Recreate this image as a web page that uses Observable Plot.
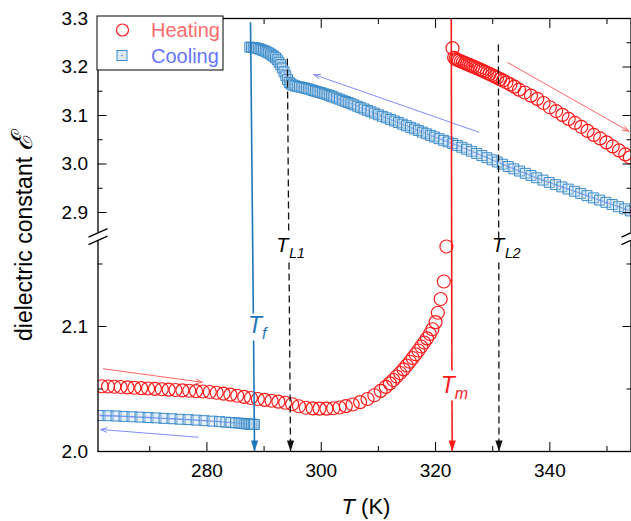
<!DOCTYPE html>
<html><head><meta charset="utf-8">
<script src="https://cdn.jsdelivr.net/npm/d3@7"></script>
<script src="https://cdn.jsdelivr.net/npm/@observablehq/plot@0.6"></script>
<style>
body{margin:0;background:#fff;}
#chart{position:relative;width:631px;height:521px;}
</style></head><body><div id="chart"></div>
<script>
// ---------- data ----------
const heatLowT = [261.6,262.7,263.8,264.9,266.1,267.3,268.5,269.7,270.9,272.1,273.3,274.5,275.7,276.9,278.1,279.3,280.5,281.7,282.9,284.1,285.3,286.5,287.7,288.9,290.1,291.3,292.5,293.7,294.9,296.1,297.3,298.5,299.7,300.9,302.1,303.2,304.3,305.5,306.8,308.1,309.3,310.4,311.3,312.0,312.6,313.2,313.8,314.4,314.95,315.5,316.0,316.5,317.0,317.5,318.0,318.5,319.0,319.45,320.0,320.4,320.9,321.45,321.9];
const heatLowE = [2.0522,2.0520,2.0518,2.0516,2.0513,2.0510,2.0507,2.0504,2.0501,2.0498,2.0495,2.0492,2.0489,2.0486,2.0483,2.0480,2.0476,2.0470,2.0463,2.0455,2.0446,2.0437,2.0428,2.0420,2.0413,2.0406,2.0399,2.0390,2.0378,2.0362,2.0350,2.0345,2.0343,2.0343,2.0346,2.0352,2.0363,2.0376,2.0395,2.0420,2.0450,2.0485,2.0517,2.0545,2.0572,2.0600,2.0628,2.0657,2.0688,2.0718,2.0748,2.0778,2.0808,2.0840,2.0872,2.0905,2.0940,2.0978,2.1035,2.1110,2.1220,2.1360,2.1640];
const heatHighT = [322.97,323.25,323.5,323.8,324.1,324.45,324.8,325.15,325.5,325.85,326.2,326.6,327.0,327.4,327.8,328.2,328.6,329.0,329.45,329.9,330.35,330.8,331.3,331.8,332.4,333.1,333.8,334.6,335.6,336.7,337.8,338.9,340.0,341.1,342.2,343.3,344.4,345.5,346.6,347.7,348.8,349.9,351.0,352.1,353.2,354.0];
const heatHighE = [3.2388,3.2190,3.2165,3.2148,3.2132,3.2115,3.2098,3.2080,3.2062,3.2045,3.2027,3.2008,3.1988,3.1967,3.1946,3.1925,3.1903,3.1881,3.1857,3.1832,3.1806,3.1780,3.1750,3.1720,3.1684,3.1640,3.1595,3.1532,3.1474,3.1410,3.1343,3.1258,3.1170,3.1092,3.1013,3.0930,3.0847,3.0766,3.0683,3.0600,3.0527,3.0446,3.0362,3.0280,3.0198,3.0138];
const coolLowT = [261.3,262.7,264.1,265.5,266.9,268.3,269.7,271.1,272.5,273.9,275.3,276.7,278.1,279.5,280.9,282.2,283.3,284.2,285.0,285.6,286.1,286.5,286.9,287.2,287.5,287.8,288.1,288.3];
const coolLowE = [2.0288,2.0286,2.0284,2.0281,2.0278,2.0275,2.0272,2.0269,2.0265,2.0262,2.0258,2.0255,2.0251,2.0247,2.0243,2.0239,2.0235,2.0232,2.0229,2.0227,2.0225,2.0223,2.0221,2.0220,2.0219,2.0218,2.0217,2.0216];
const coolHighT = [287.5,287.8,288.1,288.4,288.7,289.0,289.3,289.6,289.9,290.2,290.5,290.8,291.1,291.4,291.7,292.0,292.3,292.6,292.9,293.2,293.5,293.8,294.1,294.4,294.7,295.0,295.4,295.8,296.2,296.6,297.0,297.4,297.8,298.2,298.6,299.0,299.4,299.8,300.2,300.6,301.0,301.4,301.8,302.2,302.7,303.2,303.7,304.2,304.7,305.2,305.7,306.3,306.9,307.5,308.1,308.7,309.3,310.0,310.7,311.4,312.1,312.8,313.5,314.2,314.9,315.6,316.3,317.0,317.7,318.4,319.1,319.8,320.6,321.4,322.2,323.0,323.8,324.6,325.4,326.3,327.2,328.1,329.0,329.9,330.8,331.7,332.7,333.7,334.7,335.7,336.7,337.7,338.8,339.9,341.0,342.1,343.2,344.3,345.4,346.5,347.6,348.7,349.8,350.9,352.0,353.1,354.1];
const coolHighE = [3.2410,3.2405,3.2400,3.2395,3.2390,3.2380,3.2365,3.2352,3.2340,3.2325,3.2308,3.2290,3.2268,3.2245,3.2220,3.2190,3.2150,3.2100,3.2050,3.1980,3.1900,3.1820,3.1740,3.1680,3.1650,3.1630,3.1612,3.1600,3.1590,3.1580,3.1570,3.1558,3.1545,3.1530,3.1515,3.1500,3.1487,3.1474,3.1460,3.1445,3.1430,3.1414,3.1398,3.1380,3.1358,3.1336,3.1313,3.1290,3.1267,3.1244,3.1220,3.1192,3.1163,3.1134,3.1105,3.1076,3.1048,3.1015,3.0983,3.0951,3.0919,3.0887,3.0854,3.0822,3.0789,3.0756,3.0723,3.0690,3.0657,3.0624,3.0591,3.0558,3.0522,3.0488,3.0455,3.0420,3.0383,3.0345,3.0305,3.0262,3.0218,3.0174,3.0130,3.0085,3.0040,2.9996,2.9948,2.9900,2.9854,2.9808,2.9762,2.9716,2.9668,2.9620,2.9574,2.9528,2.9483,2.9438,2.9393,2.9348,2.9302,2.9256,2.9210,2.9165,2.9120,2.9075,2.9032];

// tick values
const xMajor = [280, 300, 320, 340];
const xMinor = [270, 290, 310, 330, 350];
const yMajor = [2.0, 2.1, 2.9, 3.0, 3.1, 3.2, 3.3];
const yMinor = [2.05, 2.15, 2.95, 3.05, 3.15, 3.25];

// transition markers: [x1, y1, x2, y2] segments (gap left for label)
const tfSegs = [[287.63, 3.2924, 288.12, 2.1104], [288.17, 2.0888, 288.33, 2.0]];
const tmSegs = [[322.75, 3.3, 322.86, 2.0648], [322.88, 2.0408, 322.92, 2.0]];
const tlSegs = [[294.07, 3.2175, 294.31, 2.859], [294.36, 2.1512, 294.63, 2.0],
                [331.0, 3.2464, 331.05, 2.1704], [331.07, 2.1512, 331.1, 2.0]];
const tipsT = [288.33, 322.92, 294.63, 331.1];
const tipsColor = ["#1f76b6", "#ff1a1a", "#111", "#111"];
// labels: main letter position, subscript, colour, kind (phase / lattice)
const labT = [288.42, 322.15, 293.18, 330.94];
const labE = [2.1008, 2.0528, 2.1644, 2.1644];
const labSub = ["f", "m", "L1", "L2"];
const labColor = ["#1f76b6", "#ff1a1a", "#000", "#000"];
const labKind = ["big", "big", "small", "small"];
// direction arrows [x1, y1, x2, y2]
const redArrows = [[332.65, 3.209, 353.83, 3.0676], [261.85, 2.0662, 279.18, 2.0554]];
const blueArrows = [[327.58, 3.0656, 298.7, 3.1845], [278.48, 2.0114, 261.4, 2.0176]];

// ---------- build tables ----------
const heat = [...heatLowT.map((t, i) => ({T: t, E: heatLowE[i]})), ...heatHighT.map((t, i) => ({T: t, E: heatHighE[i]}))];
const cool = [...coolLowT.map((t, i) => ({T: t, E: coolLowE[i], seg: "low"})), ...coolHighT.map((t, i) => ({T: t, E: coolHighE[i], seg: "high"}))];
const segRows = a => a.map(([x1, y1, x2, y2]) => ({x1, y1, x2, y2}));
const labels = labT.map((t, i) => ({T: t, E: labE[i], sub: labSub[i], color: labColor[i], kind: labKind[i]}));
const bigLabels = labels.filter(d => d.kind === "big");
const smallLabels = labels.filter(d => d.kind === "small");
const tips = tipsT.map((t, i) => ({T: t, E: 2.0, color: tipsColor[i]}));

// ---------- broken y axis: piecewise-linear scale transform ----------
const LO = [2.0, 2.171], HI = [2.853, 3.3];
const wLo = 1250, wHi = 485, wGap = 2.45;
function brk(v) {
  const a = (LO[1] - LO[0]) * wLo;
  if (v <= LO[1]) return (v - LO[0]) * wLo;
  if (v >= HI[0]) return a + wGap + (v - HI[0]) * wHi;
  return a + (v - LO[1]) / (HI[0] - LO[1]) * wGap;
}
const BREAK_VALUE = 2.5;

const FONT = "'Liberation Sans', Arial, Helvetica, sans-serif";
const breakLines = {draw(c) { c.moveTo(-9.5, 0.5); c.lineTo(9.5, -8); c.moveTo(-9.5, 8); c.lineTo(9.5, -0.5); }};
const breakFill = {draw(c) { c.moveTo(-9.5, 0.5); c.lineTo(9.5, -8); c.lineTo(9.5, -0.5); c.lineTo(-9.5, 8); c.closePath(); }};
const downTri = {draw(c) { c.moveTo(0, 0); c.lineTo(-3.6, -11); c.lineTo(3.6, -11); c.closePath(); }};

const labelMarks = (data, size, subSize) => [
  Plot.text(data, {x: "T", y: "E", text: () => "T", fill: "color", fontSize: size, fontStyle: "italic", fontFamily: FONT}),
  Plot.text(data, {x: "T", y: "E", text: "sub", fill: "color", fontSize: subSize, fontStyle: "italic", textAnchor: "start", dx: 7, dy: 8, fontFamily: FONT})
];

const plot = Plot.plot({
  width: 631, height: 521,
  marginLeft: 97.5, marginRight: 0.5, marginTop: 18, marginBottom: 70,
  x: {domain: [260.94, 354.2], label: null},
  y: {domain: [0, brk(3.3)], transform: brk, label: null},
  color: {type: "identity"},
  style: {fontFamily: FONT, background: "#fff", color: "#000", overflow: "visible"},
  marks: [
    Plot.line(cool, {x: "T", y: "E", z: "seg", stroke: "#5b6cf5", strokeWidth: 1.3, clip: true}),
    Plot.dot(cool, {x: "T", y: "E", symbol: "square", r: 5.6, stroke: "#3b8bc9", fill: "#bcd7ee", fillOpacity: 0.35, strokeWidth: 1, clip: true}),
    Plot.dot(heat, {x: "T", y: "E", r: 6.5, stroke: "#ff1a1a", fill: "none", strokeWidth: 1.2, clip: true}),
    Plot.arrow(segRows(redArrows), {x1: "x1", y1: "y1", x2: "x2", y2: "y2", stroke: "#ff6464", strokeWidth: 1, headLength: 10, headAngle: 40}),
    Plot.arrow(segRows(blueArrows), {x1: "x1", y1: "y1", x2: "x2", y2: "y2", stroke: "#7f8dff", strokeWidth: 1, headLength: 10, headAngle: 40}),
    Plot.link(segRows(tlSegs), {x1: "x1", y1: "y1", x2: "x2", y2: "y2", stroke: "#111", strokeWidth: 1.3, strokeDasharray: "7,4"}),
    Plot.link(segRows(tfSegs), {x1: "x1", y1: "y1", x2: "x2", y2: "y2", stroke: "#1f76b6", strokeWidth: 1.6}),
    Plot.link(segRows(tmSegs), {x1: "x1", y1: "y1", x2: "x2", y2: "y2", stroke: "#ff1a1a", strokeWidth: 1.6}),
    Plot.dot(tips, {x: "T", y: "E", symbol: downTri, fill: "color", stroke: "none"}),
    ...labelMarks(bigLabels, 23, 16),
    ...labelMarks(smallLabels, 20, 14),
    Plot.frame({stroke: "#000", strokeWidth: 1.3}),
    // inward ticks
    Plot.axisY(yMajor, {anchor: "left", tickSize: -9, fill: "none", label: null}),
    Plot.axisY(yMinor, {anchor: "left", tickSize: -5, fill: "none", label: null}),
    Plot.axisY(yMajor, {anchor: "right", tickSize: -9, fill: "none", label: null}),
    Plot.axisY(yMinor, {anchor: "right", tickSize: -5, fill: "none", label: null}),
    Plot.axisX(xMajor, {anchor: "bottom", tickSize: -9, fill: "none", label: null}),
    Plot.axisX(xMinor, {anchor: "bottom", tickSize: -5, fill: "none", label: null}),
    Plot.axisX(xMajor, {anchor: "top", tickSize: -9, fill: "none", label: null}),
    Plot.axisX(xMinor, {anchor: "top", tickSize: -5, fill: "none", label: null}),
    // tick labels
    Plot.axisY(yMajor, {anchor: "left", tickSize: 0, tickPadding: 10, tickFormat: d3.format(".1f"), fontSize: 19, label: null}),
    Plot.axisX(xMajor, {anchor: "bottom", tickSize: 0, tickPadding: 12, tickFormat: d3.format("d"), fontSize: 19, label: null}),
    // axis break marks
    Plot.dot([BREAK_VALUE], {y: d => d, frameAnchor: "left", symbol: breakFill, fill: "white", stroke: "none"}),
    Plot.dot([BREAK_VALUE], {y: d => d, frameAnchor: "left", symbol: breakLines, fill: "none", stroke: "#000", strokeWidth: 1.3}),
    Plot.dot([BREAK_VALUE], {y: d => d, frameAnchor: "right", symbol: breakFill, fill: "white", stroke: "none"}),
    Plot.dot([BREAK_VALUE], {y: d => d, frameAnchor: "right", symbol: breakLines, fill: "none", stroke: "#000", strokeWidth: 1.3})
  ]
});

const svg = d3.select(plot);
// axis titles
const yt = svg.append("text").attr("transform", "translate(32,341) rotate(-90)").attr("text-anchor", "start")
  .attr("font-family", FONT).attr("font-size", 23).attr("fill", "#000").text("dielectric constant ");
yt.append("tspan").attr("font-style", "italic").attr("font-size", 29).text("ℰ");
const xt = svg.append("text").attr("x", 366).attr("y", 514).attr("text-anchor", "middle")
  .attr("font-family", FONT).attr("font-size", 22).attr("fill", "#000");
xt.append("tspan").attr("font-style", "italic").text("T");
xt.append("tspan").text(" (K)");

// legend
const lg = svg.append("g").attr("font-family", FONT).attr("font-size", 20).attr("text-anchor", "start");
lg.append("rect").attr("x", 97).attr("y", 16).attr("width", 126).attr("height", 54)
  .attr("fill", "#fff").attr("stroke", "#000").attr("stroke-width", 1);
lg.append("circle").attr("cx", 122.5).attr("cy", 30).attr("r", 6).attr("fill", "none").attr("stroke", "#ff1a1a").attr("stroke-width", 1.2);
lg.append("rect").attr("x", 117).attr("y", 50.5).attr("width", 10).attr("height", 10)
  .attr("fill", "#bcd7ee").attr("fill-opacity", 0.5).attr("stroke", "#3b8bc9");
lg.append("circle").attr("cx", 122).attr("cy", 55.5).attr("r", 0.8).attr("fill", "#5b6cf5");
lg.append("text").attr("x", 151).attr("y", 30).attr("dy", "0.35em").attr("fill", "#ff6b6b").text("Heating");
lg.append("text").attr("x", 151).attr("y", 56).attr("dy", "0.35em").attr("fill", "#6676ff").text("Cooling");

document.getElementById("chart").appendChild(plot);
</script>
</body></html>
